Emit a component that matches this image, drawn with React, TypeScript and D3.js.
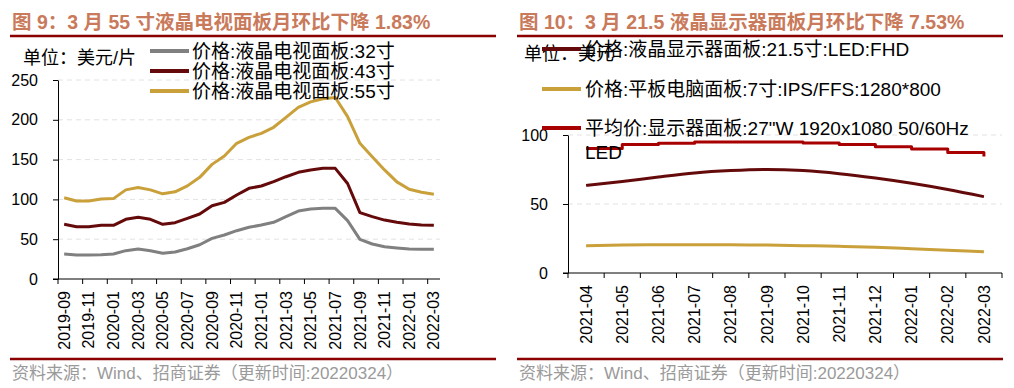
import { useEffect, useRef } from 'react'
import * as d3 from 'd3'

// left chart: monthly LCD TV panel prices (USD / piece)
const tvMonths = [
    '2019-09', '2019-10', '2019-11', '2019-12', '2020-01', '2020-02', '2020-03', '2020-04',
    '2020-05', '2020-06', '2020-07', '2020-08', '2020-09', '2020-10', '2020-11', '2020-12',
    '2021-01', '2021-02', '2021-03', '2021-04', '2021-05', '2021-06', '2021-07', '2021-08',
    '2021-09', '2021-10', '2021-11', '2021-12', '2022-01', '2022-02', '2022-03',
]
const tv32 = [
    31.4, 30.2, 30.2, 30.6, 31.4, 35.6, 37.7, 35.6, 32.3, 34, 38, 43, 51, 55.3, 60.7, 65,
    67.8, 71.2, 78.3, 85.4, 88, 88.8, 88.8, 73.3, 49.8, 44, 40.6, 39, 37.7, 37.5, 37.5,
]
const tv43 = [
    68.7, 65.7, 65.7, 67.4, 67.4, 75, 77.5, 75, 68.7, 70.8, 76.2, 81.7, 92, 96.3, 105.5, 113.9,
    116.8, 122.3, 128.5, 134, 137, 139, 139, 120, 83.3, 78.3, 74, 71.2, 69, 67.8, 67.4,
]
const tv55 = [
    102, 98, 98, 100.5, 101, 112, 115, 112, 107, 109.5, 117, 127.7, 144, 154.5, 170.5, 178,
    183, 190.6, 203, 215.7, 222.5, 226.5, 228, 204, 170.5, 153.7, 137, 122, 112.7, 109, 106.5,
]
const tvLegend = ['价格:液晶电视面板:32寸', '价格:液晶电视面板:43寸', '价格:液晶电视面板:55寸']
const tvTicks = [0, 50, 100, 150, 200, 250]

// right chart: monitor / tablet panel prices
const monMonths = [
    '2021-04', '2021-05', '2021-06', '2021-07', '2021-08', '2021-09',
    '2021-10', '2021-11', '2021-12', '2022-01', '2022-02', '2022-03',
]
const mon215 = [63.5, 66.3, 69.6, 72.5, 74.2, 75, 74.2, 72, 68.8, 65, 60.5, 55.3]
const tab7 = [19.8, 20.3, 20.5, 20.5, 20.5, 20.2, 19.8, 19.3, 18.6, 17.6, 16.5, 15.4]
const mon27 = [90.3, 93.2, 94.1, 95, 95, 95, 94.2, 93.2, 91.5, 89.9, 87.4, 84.5]
const monLegend = [
    '价格:液晶显示器面板:21.5寸:LED:FHD',
    '价格:平板电脑面板:7寸:IPS/FFS:1280*800',
    '平均价:显示器面板:27"W 1920x1080 50/60Hz',
]
const monTicks = [0, 50, 100]

const FONT = '"Liberation Sans", Arial, "Noto Sans CJK SC", sans-serif'
const RED = '#8b0000'
const GRAY = '#808080'
const MAROON = '#650a0a'
const GOLD = '#c9a03a'
const BRIGHT = '#a80000'

type Series = { v: number[]; c: string; curve: d3.CurveFactory }

const Chart = () => {
    const ref = useRef<SVGSVGElement | null>(null)

    useEffect(() => {
        if (!ref.current) return
        const svg = d3.select(ref.current)
        svg.selectAll('*').remove()
        svg.attr('font-family', FONT)

        const panel = (
            x0: number,
            title: string,
            months: string[],
            series: Series[],
            yMax: number,
            ticks: number[],
            plot: { l: number; r: number; t: number; b: number },
            tickEvery: number,
            drawEndTick: boolean,
        ) => {
            const g = svg.append('g')
            g.append('text')
                .attr('x', x0 + 12)
                .attr('y', 22)
                .attr('dy', '0.35em')
                .attr('font-size', 19.5)
                .attr('font-weight', 'bold')
                .attr('fill', '#c97a5b')
                .text(title)
            g.append('line')
                .attr('x1', x0 + 10).attr('x2', x0 + 496)
                .attr('y1', 36).attr('y2', 36)
                .attr('stroke', RED).attr('stroke-width', 2.5)
            g.append('line')
                .attr('x1', x0 + 10).attr('x2', x0 + 496)
                .attr('y1', 359).attr('y2', 359)
                .attr('stroke', RED).attr('stroke-width', 2.5)
            g.append('text')
                .attr('x', x0 + 12)
                .attr('y', 373)
                .attr('dy', '0.35em')
                .attr('font-size', 17)
                .attr('fill', '#9a9a9a')
                .text('资料来源：Wind、招商证券（更新时间:20220324）')

            const x = d3.scaleBand().domain(months).range([plot.l, plot.r])
            const y = d3.scaleLinear().domain([0, yMax]).range([plot.b, plot.t])

            // grid
            g.append('g')
                .selectAll('line')
                .data(ticks.filter(t => t > 0))
                .join('line')
                .attr('x1', plot.l).attr('x2', plot.r)
                .attr('y1', d => y(d)).attr('y2', d => y(d))
                .attr('stroke', '#e2e2e2')
                .attr('stroke-dasharray', '5,4')

            const yAxis = g.append('g')
                .attr('transform', `translate(${plot.l},0)`)
                .call(d3.axisLeft(y).tickValues(ticks).tickSize(5).tickPadding(15).tickSizeOuter(0))
            yAxis.select('.domain').attr('stroke', '#000')
            yAxis.selectAll('text').attr('font-size', 16).attr('fill', '#000').attr('font-family', FONT)

            // x axis
            g.append('line')
                .attr('x1', plot.l - 5).attr('x2', plot.r)
                .attr('y1', plot.b).attr('y2', plot.b)
                .attr('stroke', '#000')
            const bounds = months
                .map((_, i) => i)
                .filter(i => i % tickEvery === 0)
                .map(i => plot.l + i * x.step())
            if (drawEndTick) bounds.push(plot.r)
            g.append('g')
                .selectAll('line')
                .data(bounds)
                .join('line')
                .attr('x1', d => d).attr('x2', d => d)
                .attr('y1', plot.b).attr('y2', plot.b + 5)
                .attr('stroke', '#000')
            g.append('g')
                .selectAll('text')
                .data(months.filter((_, i) => i % tickEvery === 0))
                .join('text')
                .attr('transform', d => `translate(${x(d)! + x.bandwidth() / 2},${plot.b + 12}) rotate(-90)`)
                .attr('text-anchor', 'end')
                .attr('dy', '0.35em')
                .attr('font-size', 16)
                .text(d => d)

            for (const s of series) {
                const line = d3
                    .line<number>()
                    .x((_, i) => x(months[i])! + x.bandwidth() / 2)
                    .y(d => y(d))
                    .curve(s.curve)
                g.append('path')
                    .attr('d', line(s.v))
                    .attr('fill', 'none')
                    .attr('stroke', s.c)
                    .attr('stroke-width', 3)
                    .attr('stroke-linejoin', 'round')
            }
            return g
        }

        // left panel
        const gl = panel(
            0,
            '图 9：3 月 55 寸液晶电视面板月环比下降 1.83%',
            tvMonths,
            [
                { v: tv32, c: GRAY, curve: d3.curveLinear },
                { v: tv43, c: MAROON, curve: d3.curveLinear },
                { v: tv55, c: GOLD, curve: d3.curveLinear },
            ],
            250,
            tvTicks,
            { l: 58, r: 440, t: 80, b: 279 },
            2,
            false,
        )
        gl.append('text')
            .attr('x', 23).attr('y', 58).attr('dy', '0.35em')
            .attr('font-size', 18)
            .text('单位：美元/片')
        const legendL = [GRAY, MAROON, GOLD]
        tvLegend.forEach((t, i) => {
            const yy = 51 + i * 20
            gl.append('line')
                .attr('x1', 150).attr('x2', 189)
                .attr('y1', yy).attr('y2', yy)
                .attr('stroke', legendL[i]).attr('stroke-width', 4)
            gl.append('text')
                .attr('x', 192).attr('y', yy).attr('dy', '0.35em')
                .attr('font-size', 19)
                .text(t)
        })

        // right panel
        const gr = panel(
            507,
            '图 10：3 月 21.5 液晶显示器面板月环比下降 7.53%',
            monMonths,
            [
                { v: mon215, c: MAROON, curve: d3.curveMonotoneX },
                { v: tab7, c: GOLD, curve: d3.curveMonotoneX },
                { v: mon27, c: BRIGHT, curve: d3.curveStepAfter },
            ],
            100,
            monTicks,
            { l: 568, r: 1002, t: 135, b: 273 },
            1,
            true,
        )
        gr.append('text')
            .attr('x', 524).attr('y', 54).attr('dy', '0.35em')
            .attr('font-size', 18)
            .text('单位：美元')
        const legendR = [MAROON, GOLD, BRIGHT]
        const legendY = [49, 89, 128]
        monLegend.forEach((t, i) => {
            const yy = legendY[i]
            gr.append('line')
                .attr('x1', 542).attr('x2', 581)
                .attr('y1', yy).attr('y2', yy)
                .attr('stroke', legendR[i]).attr('stroke-width', 4)
            gr.append('text')
                .attr('x', 585).attr('y', yy).attr('dy', '0.35em')
                .attr('font-size', 19)
                .text(t)
        })
        gr.append('text')
            .attr('x', 585).attr('y', 152).attr('dy', '0.35em')
            .attr('font-size', 19)
            .text('LED')
    }, [])

    return <svg ref={ref} width={1014} height={388} style={{ position: 'absolute', left: 0, top: 0 }} />
}

export default function App() {
    return <Chart />
}
